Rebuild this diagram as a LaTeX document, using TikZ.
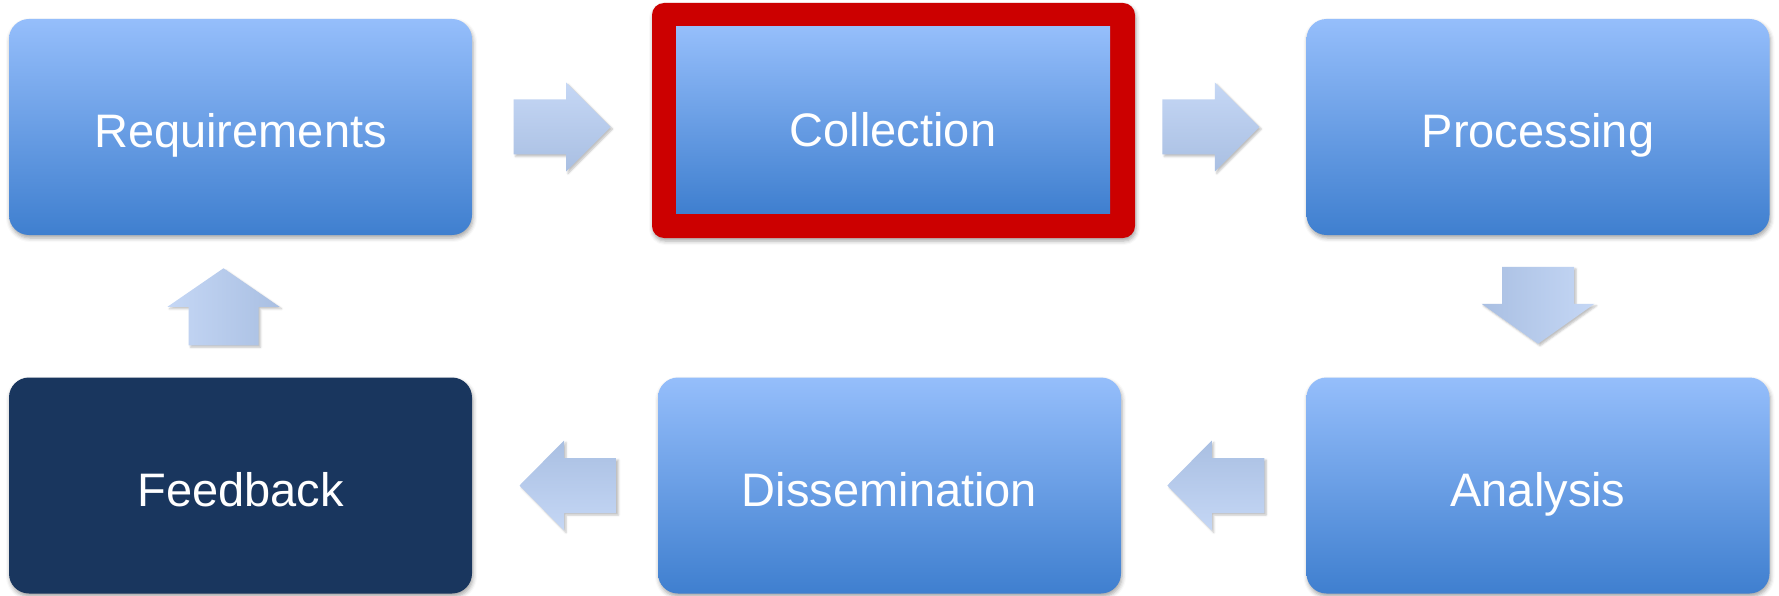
\documentclass[tikz,border=0pt]{standalone}
\usepackage{fontspec}
\setmainfont{Liberation Sans}
\usetikzlibrary{calc,shadows.blur}
\definecolor{boxtop}{HTML}{95BEFB}
\definecolor{boxbot}{HTML}{3F7FCF}
\definecolor{navy}{HTML}{19365E}
\definecolor{hired}{HTML}{CC0000}
\definecolor{arlight}{HTML}{C5D7F5}
\definecolor{ardark}{HTML}{A9BFE2}
\tikzset{
  stagebox/.style={rounded corners=20pt, minimum width=463pt, minimum height=216pt,
    inner sep=0pt, text=white, font=\fontsize{47}{56}\selectfont,
    text height=41pt, text depth=0pt,
    blur shadow={shadow xshift=1pt, shadow yshift=-3pt, shadow blur radius=4pt, shadow opacity=35}},
  bluebox/.style={stagebox, top color=boxtop, bottom color=boxbot},
  darkbox/.style={stagebox, fill=navy},
  redframe/.style={rounded corners=12pt, fill=hired, minimum width=483pt, minimum height=235pt,
    inner sep=0pt,
    blur shadow={shadow xshift=1pt, shadow yshift=-3pt, shadow blur radius=4pt, shadow opacity=35}},
  innerbox/.style={top color=boxtop, bottom color=boxbot, minimum width=434pt, minimum height=186pt,
    inner sep=0pt, text=white, font=\fontsize{47}{56}\selectfont, text height=54pt, text depth=0pt},
  arrowfill/.style={blur shadow={shadow xshift=2pt, shadow yshift=-2pt, shadow blur radius=2pt, shadow opacity=25}},
  rarrow/.pic={\path[arrowfill, top color=arlight, bottom color=ardark]
    (-48.5,-27.5) -- (4,-27.5) -- (4,-44.5) -- (48.5,0) -- (4,44.5) -- (4,27.5) -- (-48.5,27.5) -- cycle;},
  larrow/.pic={\path[arrowfill, top color=ardark, bottom color=arlight]
    (48.5,-27.5) -- (-4,-27.5) -- (-4,-45) -- (-48.5,0) -- (-4,45) -- (-4,27.5) -- (48.5,27.5) -- cycle;},
  darrow/.pic={\path[arrowfill, left color=ardark, right color=arlight]
    (-36,-38.5) -- (36,-38.5) -- (36,-1.5) -- (56.5,-1.5) -- (0,38.5) -- (-56.5,-1.5) -- (-36,-1.5) -- cycle;},
  uarrow/.pic={\path[arrowfill, left color=arlight, right color=ardark]
    (-35,38.5) -- (35,38.5) -- (35,0) -- (56,0) -- (0,-38.5) -- (-56,0) -- (-35,0) -- cycle;},
}
\begin{document}
\begin{tikzpicture}[x=1pt, y=-1pt]
\useasboundingbox (0,0) rectangle (1779,596);
% boxes
\node[bluebox] (req) at (240.5,127) {Requirements};
\node[redframe] (collout) at (893.5,120.5) {};
\node[innerbox] (coll) at (893,120) {Collection};
\node[bluebox] (proc) at (1538,127) {Processing};
\node[bluebox] (ana) at (1538,485.5) {Analysis};
\node[bluebox] (diss) at (889.5,485.5) {Dissemination};
\node[darkbox] (fb) at (240.5,485.5) {Feedback};
% block arrows between the boxes
\path ($(req.east)!0.5!(collout.west |- req.east)$) pic {rarrow};
\path ($(collout.east |- proc.west)!0.5!(proc.west)$) ++(-10,0) pic {rarrow};
\path ($(proc.south)!0.5!(ana.north)$) ++(0,-1) pic {darrow};
\path ($(ana.west)!0.5!(diss.east)$) ++(2,0) pic {larrow};
\path ($(diss.west)!0.5!(fb.east)$) ++(3,0) pic {larrow};
\path ($(fb.north)!0.5!(req.south)$) ++(-17,0.5) pic {uarrow};
\end{tikzpicture}
\end{document}
